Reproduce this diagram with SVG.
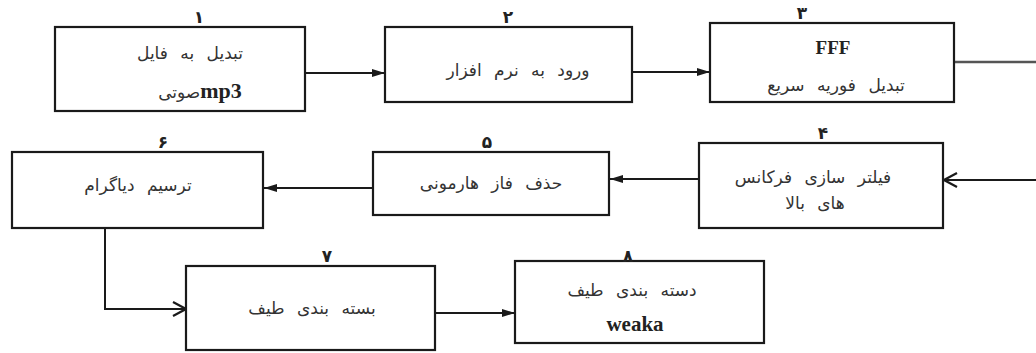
<svg xmlns="http://www.w3.org/2000/svg" width="1036" height="353" viewBox="0 0 1036 353">
<style>
.box{fill:#fff;stroke:#1a1a1a;stroke-width:2.2}
.fa{font-family:"DejaVu Sans",sans-serif;font-size:17px;fill:#333;text-anchor:middle;word-spacing:7px}
.num{font-family:"DejaVu Sans",sans-serif;font-size:17px;font-weight:bold;fill:#222;text-anchor:middle}
.lat{font-family:"Liberation Serif",serif;font-size:19px;font-weight:bold;fill:#222;text-anchor:middle}
.con{fill:none;stroke:#1a1a1a;stroke-width:2}
</style>
<defs>
<marker id="fill" markerUnits="userSpaceOnUse" markerWidth="14" markerHeight="10" refX="13" refY="5" orient="auto">
<path d="M0,1 L13,5 L0,9 z" fill="#1a1a1a"/>
</marker>
<marker id="open" markerUnits="userSpaceOnUse" markerWidth="16" markerHeight="18" refX="14" refY="9" orient="auto">
<path d="M1,2 L14,9 L1,16" fill="none" stroke="#1a1a1a" stroke-width="2.2"/>
</marker>
</defs>
<rect width="1036" height="353" fill="#fff"/>
<g id="connectors">
<line class="con" x1="306" y1="73" x2="385" y2="73" marker-end="url(#fill)"/>
<line class="con" x1="633" y1="72" x2="710" y2="72" marker-end="url(#fill)"/>
<line x1="955" y1="62" x2="1036" y2="62" stroke="#555" stroke-width="2.5"/>
<line class="con" x1="1036" y1="180" x2="944" y2="180" stroke-width="2.5" marker-end="url(#open)"/>
<line class="con" x1="699" y1="179" x2="610" y2="179" marker-end="url(#fill)"/>
<line class="con" x1="373" y1="188" x2="264" y2="188" marker-end="url(#fill)"/>
<polyline class="con" points="105,228 105,309 186,309" stroke-width="3" marker-end="url(#open)"/>
<line class="con" x1="436" y1="313" x2="515" y2="313" stroke-width="1" marker-end="url(#fill)"/>
</g>
<g id="n1">
<rect class="box" x="55" y="27" width="250" height="84"/>
<text class="num" x="199" y="23">۱</text>
<text class="fa" x="190" y="59">تبدیل به فایل</text>
<text x="200" y="98" text-anchor="middle" direction="rtl"><tspan style="font-family:'Liberation Serif',serif;font-size:22px;font-weight:bold;fill:#222">mp3</tspan><tspan style="font-family:'DejaVu Sans',sans-serif;font-size:17px;fill:#333">صوتی</tspan></text>
</g>
<g id="n2">
<rect class="box" x="385" y="27" width="247" height="75"/>
<text class="num" x="508" y="23">۲</text>
<text class="fa" x="518" y="76">ورود به نرم افزار</text>
</g>
<g id="n3">
<rect class="box" x="710" y="23" width="244" height="79"/>
<text class="num" x="802" y="19">۳</text>
<text class="lat" x="833" y="54">FFF</text>
<text class="fa" x="836" y="91">تبدیل فوریه سریع</text>
</g>
<g id="n4">
<rect class="box" x="699" y="143" width="244" height="85"/>
<text class="num" x="823" y="139">۴</text>
<text class="fa" x="813" y="183">فیلتر سازی فرکانس</text>
<text class="fa" x="815" y="209">های بالا</text>
</g>
<g id="n5">
<rect class="box" x="373" y="152" width="236" height="63"/>
<text class="num" x="487" y="148">۵</text>
<text class="fa" x="491" y="189">حذف فاز هارمونی</text>
</g>
<g id="n6">
<rect class="box" x="12" y="152" width="251" height="76"/>
<text class="num" x="163" y="148">۶</text>
<text class="fa" x="138" y="191">ترسیم دیاگرام</text>
</g>
<g id="n7">
<rect class="box" x="186" y="266" width="249" height="84"/>
<text class="num" x="327" y="262">۷</text>
<text class="fa" x="312" y="314">بسته بندی طیف</text>
</g>
<g id="n8">
<rect class="box" x="515" y="261" width="249" height="82"/>
<text class="num" x="628" y="262">۸</text>
<text class="fa" x="632" y="296">دسته بندی طیف</text>
<text class="lat" x="635" y="331" style="font-size:21px">weaka</text>
</g>
</svg>
